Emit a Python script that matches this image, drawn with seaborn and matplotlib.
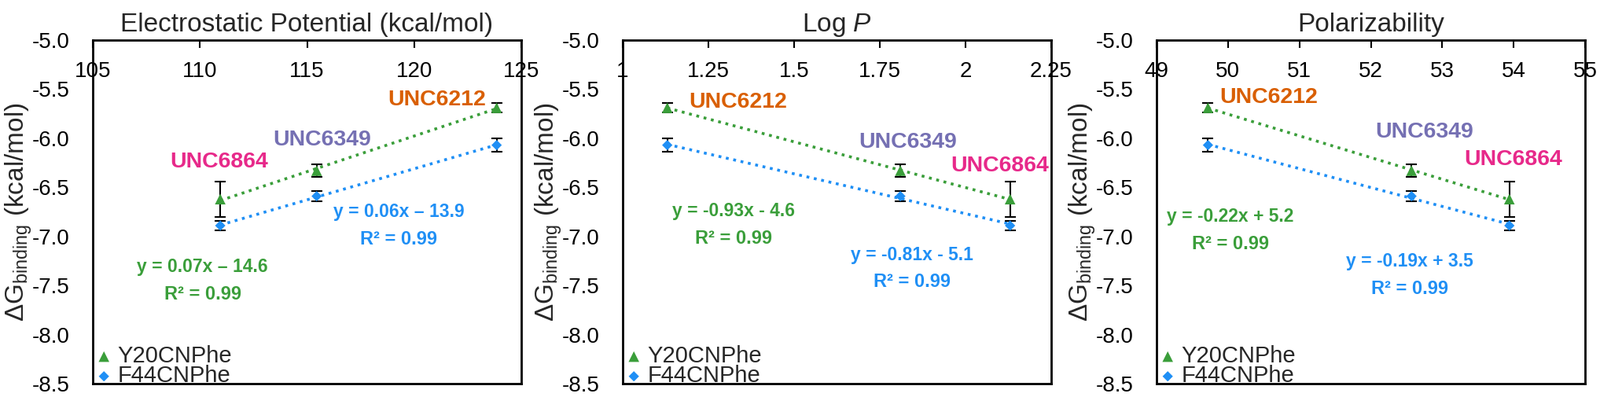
import matplotlib
matplotlib.use("Agg")
import matplotlib.pyplot as plt
import seaborn as sns
import pandas as pd

# data
compounds = ["UNC6212", "UNC6349", "UNC6864"]
esp = [123.85, 115.45, 110.95]
logp = [1.13, 1.81, 2.13]
polar = [49.72, 52.57, 53.94]

y20_dg = [-5.69, -6.33, -6.62]
y20_err = [0.05, 0.065, 0.18]
f44_dg = [-6.07, -6.59, -6.89]
f44_err = [0.065, 0.053, 0.047]

esp_ticks = [105, 110, 115, 120, 125]
logp_ticks = [1, 1.25, 1.5, 1.75, 2, 2.25]
polar_ticks = [49, 50, 51, 52, 53, 54, 55]
dg_ticks = [-5.0, -5.5, -6.0, -6.5, -7.0, -7.5, -8.0, -8.5]

eq_y20 = ["y = 0.07x \u2013 14.6", "y = -0.93x - 4.6", "y = -0.22x + 5.2"]
eq_f44 = ["y = 0.06x \u2013 13.9", "y = -0.81x - 5.1", "y = -0.19x + 3.5"]
r2_y20 = ["R\u00b2 = 0.99", "R\u00b2 = 0.99", "R\u00b2 = 0.99"]
r2_f44 = ["R\u00b2 = 0.99", "R\u00b2 = 0.99", "R\u00b2 = 0.99"]

titles = ["Electrostatic Potential (kcal/mol)", "Log $\\mathit{P}$", "Polarizability"]

GREEN = "#3a9e3a"
BLUE = "#1f8ff5"
label_colors = {"UNC6212": "#d95f02", "UNC6349": "#7570b3", "UNC6864": "#e7298a"}

sns.set_style("white")
plt.rcParams["font.family"] = ["Liberation Sans", "DejaVu Sans"]
plt.rcParams["mathtext.fontset"] = "custom"
plt.rcParams["mathtext.rm"] = "Liberation Sans"
plt.rcParams["mathtext.it"] = "Liberation Sans:italic"
plt.rcParams["axes.unicode_minus"] = False

fig = plt.figure(figsize=(20.35, 5.05), dpi=100)
W, H = 2035, 505
lefts = [118, 792, 1471]
top, bottom = 51, 488
aw = 545

# layout of the text labels per panel (data coords)
layouts = [
    dict(x=esp, xlim=(105, 125), ticks=esp_ticks,
         names={"UNC6212": (121.06, -5.61), "UNC6349": (115.7, -6.02), "UNC6864": (110.9, -6.24)},
         g=(110.12, -7.31, -7.59), b=(119.29, -6.75, -7.03)),
    dict(x=logp, xlim=(1, 2.25), ticks=logp_ticks,
         names={"UNC6212": (1.337, -5.63), "UNC6349": (1.832, -6.045), "UNC6864": (2.10, -6.28)},
         g=(1.323, -6.74, -7.02), b=(1.843, -7.19, -7.46)),
    dict(x=polar, xlim=(49, 55), ticks=polar_ticks,
         names={"UNC6212": (50.566, -5.585), "UNC6349": (52.747, -5.94), "UNC6864": (53.998, -6.22)},
         g=(50.03, -6.80, -7.08), b=(52.54, -7.255, -7.535)),
]

for i, lay in enumerate(layouts):
    ax = fig.add_axes([lefts[i] / W, 1 - bottom / H, aw / W, (bottom - top) / H])
    df = pd.DataFrame({"x": lay["x"], "y20": y20_dg, "f44": f44_dg,
                       "e20": y20_err, "e44": f44_err, "cpd": compounds})

    sns.regplot(data=df, x="x", y="y20", ax=ax, scatter=False, ci=None, truncate=True,
                line_kws=dict(color=GREEN, lw=2.6, ls=":"))
    sns.regplot(data=df, x="x", y="f44", ax=ax, scatter=False, ci=None, truncate=True,
                line_kws=dict(color=BLUE, lw=2.6, ls=":"))

    ax.errorbar(df["x"], df["y20"], yerr=df["e20"], fmt="none", ecolor="black",
                elinewidth=1.5, capsize=5, capthick=1.5, zorder=3)
    ax.errorbar(df["x"], df["f44"], yerr=df["e44"], fmt="none", ecolor="black",
                elinewidth=1.5, capsize=5, capthick=1.5, zorder=3)
    sns.scatterplot(data=df, x="x", y="y20", ax=ax, marker="^", s=95, color=GREEN,
                    edgecolor="none", label="Y20CNPhe", zorder=4)
    sns.scatterplot(data=df, x="x", y="f44", ax=ax, marker="D", s=45, color=BLUE,
                    edgecolor="none", label="F44CNPhe", zorder=4)

    for cpd, (tx, ty) in lay["names"].items():
        ax.text(tx, ty, cpd, color=label_colors[cpd], fontsize=20.5, fontweight="bold",
                ha="center", va="center")
    gx, gy1, gy2 = lay["g"]
    ax.text(gx, gy1, eq_y20[i], color=GREEN, fontsize=16.5, fontweight="bold",
            ha="center", va="center")
    ax.text(gx, gy2, r2_y20[i], color=GREEN, fontsize=17, fontweight="bold",
            ha="center", va="center")
    bx, by1, by2 = lay["b"]
    ax.text(bx, by1, eq_f44[i], color=BLUE, fontsize=16.5, fontweight="bold",
            ha="center", va="center")
    ax.text(bx, by2, r2_f44[i], color=BLUE, fontsize=17, fontweight="bold",
            ha="center", va="center")

    ax.set_xlim(*lay["xlim"])
    ax.set_ylim(-8.5, -5.0)
    ax.set_xticks(lay["ticks"])
    ax.set_xticklabels([f"{t:g}" for t in lay["ticks"]])
    ax.set_yticks(dg_ticks)
    ax.set_yticklabels([f"{t:.1f}" for t in dg_ticks])
    ax.xaxis.tick_top()
    ax.tick_params(axis="x", direction="in", length=7, width=1.5, pad=-38.5,
                   labelsize=20, colors="black")
    ax.tick_params(axis="y", direction="in", length=7, width=1.5, pad=21,
                   labelsize=20, colors="black")
    for sp in ax.spines.values():
        sp.set_visible(True)
        sp.set_linewidth(2)
        sp.set_color("black")

    ax.set_xlabel("")
    ax.set_ylabel("\u0394G$_{\\mathrm{binding}}$ (kcal/mol)", fontsize=24)
    ax.yaxis.set_label_coords(-0.137, 0.5)
    ax.set_title(titles[i], fontsize=24, y=1.0, pad=8)

    ax.legend(loc="lower left", bbox_to_anchor=(0.01, -0.01), frameon=False,
              fontsize=21, handlelength=0.6, handletextpad=0.3, labelspacing=-0.1,
              borderpad=0, borderaxespad=0)

fig.savefig("out.png", dpi=100)
